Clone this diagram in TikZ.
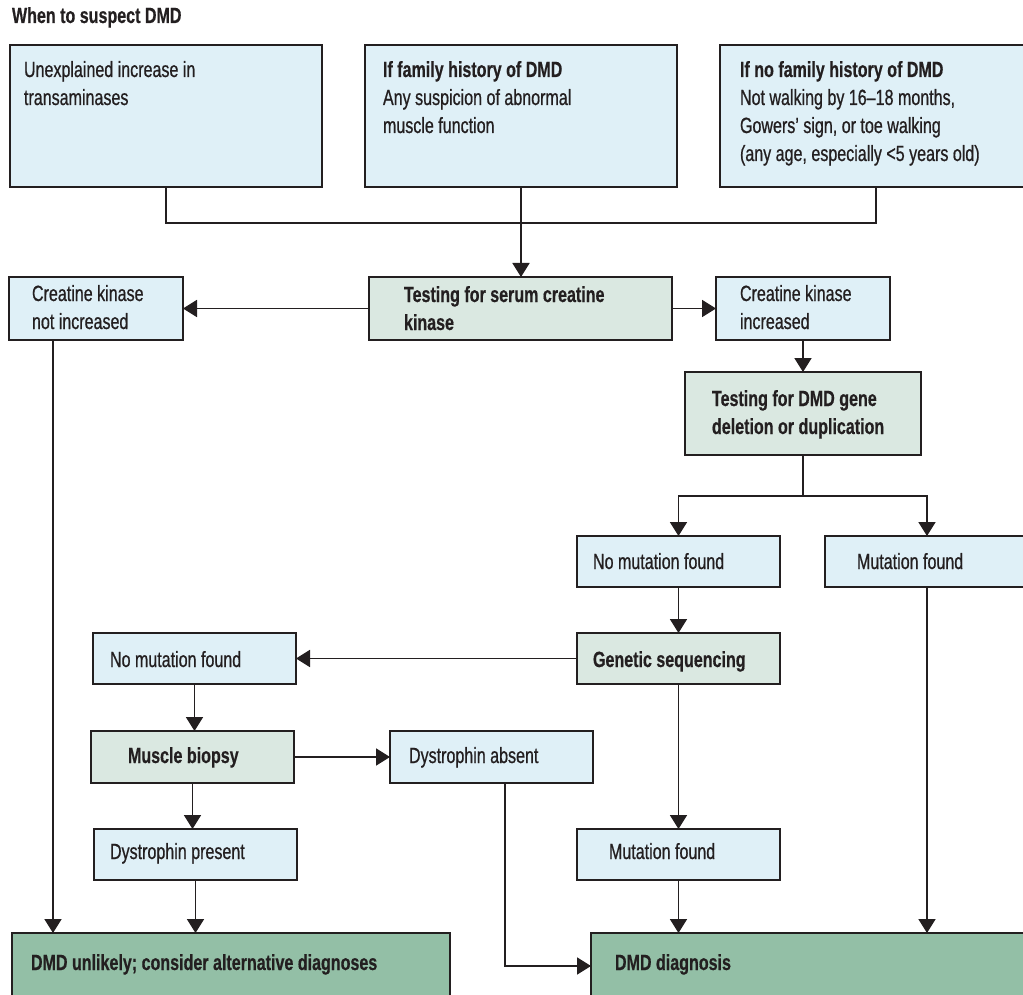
\documentclass[tikz,border=0pt]{standalone}
\usepackage{fontspec}
\setmainfont{Liberation Sans}[FakeStretch=0.73, UprightFeatures={FakeBold=0.7}, BoldFeatures={FakeBold=0.5}]
\usetikzlibrary{arrows.meta}
\definecolor{lblue}{HTML}{DFF0F7}
\definecolor{gpale}{HTML}{DAE8E1}
\definecolor{gdark}{HTML}{93BFA6}
\definecolor{edgec}{HTML}{231F20}
\newcommand\myfont{\fontsize{22}{28}\selectfont}
\newcommand\bx[6]{\node[#1, minimum width={(#5-#3)*1pt}, minimum height={(#6-#4)*1pt}] (#2) at ({(#3+#5)/2},{(#4+#6)/2}) {};}
\newcommand\tx[4]{\node[txt] (#1) at (#2,{#3-19.6}) {\strut #4};}
\tikzset{
  boxbase/.style={draw=edgec, line width=1.8pt, inner sep=0pt, outer sep=0pt, rectangle},
  bluebox/.style={boxbase, fill=lblue},
  testbox/.style={boxbase, fill=gpale},
  endbox/.style={boxbase, fill=gdark},
  txt/.style={anchor=north west, inner sep=0pt, outer sep=0pt, align=left, font=\myfont, text=edgec},
  conn/.style={draw=edgec, line width=1.8pt},
  arr/.style={conn, -{Triangle[length=14pt,width=17pt]}}
}
\begin{document}
\begin{tikzpicture}[x=1pt, y={(0pt,-1pt)}]
\useasboundingbox (0,0) rectangle (1023,995);
\fill[white] (0,0) rectangle (1023,995);
\clip (0,0) rectangle (1023,995);
% boxes
\bx{bluebox}{b1}{10}{45}{322}{187}
\bx{bluebox}{b2}{365}{45}{677}{187}
\bx{bluebox}{b3}{720}{45}{1032}{187}
\bx{bluebox}{nk}{9}{277}{183}{340}
\bx{testbox}{serum}{369}{277}{672}{340}
\bx{bluebox}{ki}{716}{277}{890}{340}
\bx{testbox}{gene}{685}{372}{921}{455}
\bx{bluebox}{nm1}{577}{536}{780}{587}
\bx{bluebox}{mf1}{825}{536}{1029}{587}
\bx{testbox}{gs}{577}{633}{780}{684}
\bx{bluebox}{nm2}{93}{633}{296}{684}
\bx{testbox}{mb}{91}{731}{294}{783}
\bx{bluebox}{da}{390}{731}{593}{783}
\bx{bluebox}{dp}{94}{829}{297}{880}
\bx{bluebox}{mf2}{577}{829}{780}{880}
\bx{endbox}{unl}{12}{933}{450}{999}
\bx{endbox}{diag}{591}{933}{1040}{999}
% texts
\node[txt, anchor=base west] (title) at (12,23) {\textbf{When to suspect DMD}};
\tx{b1t}{24}{77}{Unexplained increase in\\transaminases}
\tx{b2t}{383}{77}{\textbf{If family history of DMD}\\Any suspicion of abnormal\\muscle function}
\tx{b3t}{740}{77}{\textbf{If no family history of DMD}\\Not walking by 16–18 months,\\Gowers’ sign, or toe walking\\(any age, especially <5 years old)}
\tx{nkt}{32}{301}{Creatine kinase\\not increased}
\tx{serumt}{404}{302}{\textbf{Testing for serum creatine}\\\textbf{kinase}}
\tx{kit}{740}{301}{Creatine kinase\\increased}
\tx{genet}{712}{406}{\textbf{Testing for DMD gene}\\\textbf{deletion or duplication}}
\tx{nm1t}{593}{569}{No mutation found}
\tx{mf1t}{857}{569}{Mutation found}
\tx{gst}{593}{667}{\textbf{Genetic sequencing}}
\tx{nm2t}{110}{667}{No mutation found}
\tx{mbt}{128}{763}{\textbf{Muscle biopsy}}
\tx{dat}{409}{763}{Dystrophin absent}
\tx{dpt}{110}{859}{Dystrophin present}
\tx{mf2t}{609}{859}{Mutation found}
\tx{unlt}{31}{970}{\textbf{DMD unlikely; consider alternative diagnoses}}
\tx{diagt}{615}{970}{\textbf{DMD diagnosis}}
% helper coordinates
\coordinate (j1) at (521,223);
\coordinate (j2) at (803,496);
\coordinate (k1) at (53,0);
\coordinate (k2) at (505,0);
% connectors
\draw[conn] (b1.south) |- (j1) -| (b3.south);
\draw[arr] (b2.south) -- (b2.south |- serum.north);
\draw[arr] (serum.west) -- (nk.east);
\draw[arr] (serum.east) -- (ki.west);
\draw[arr] (ki.south) -- (gene.north);
\draw[conn] (gene.south) -- (j2);
\draw[arr] (j2) -| (nm1.north);
\draw[arr] (j2) -| (mf1.north);
\draw[arr] (nm1.south) -- (gs.north);
\draw[arr] (gs.west) -- (nm2.east);
\draw[arr] (nm2.south) -- (nm2.south |- mb.north);
\draw[arr] (mb.east) -- (mb.east -| da.west);
\draw[arr] (mb.south) -- (mb.south |- dp.north);
\draw[arr] (gs.south) -- (gs.south |- mf2.north);
\draw[arr] (nk.south -| k1) -- (unl.north -| k1);
\draw[arr] (dp.south) -- (dp.south |- unl.north);
\draw[arr] (da.south -| k2) |- (diag.west);
\draw[arr] (mf2.south) -- (mf2.south |- diag.north);
\draw[arr] (mf1.south) -- (mf1.south |- diag.north);
\end{tikzpicture}
\end{document}
